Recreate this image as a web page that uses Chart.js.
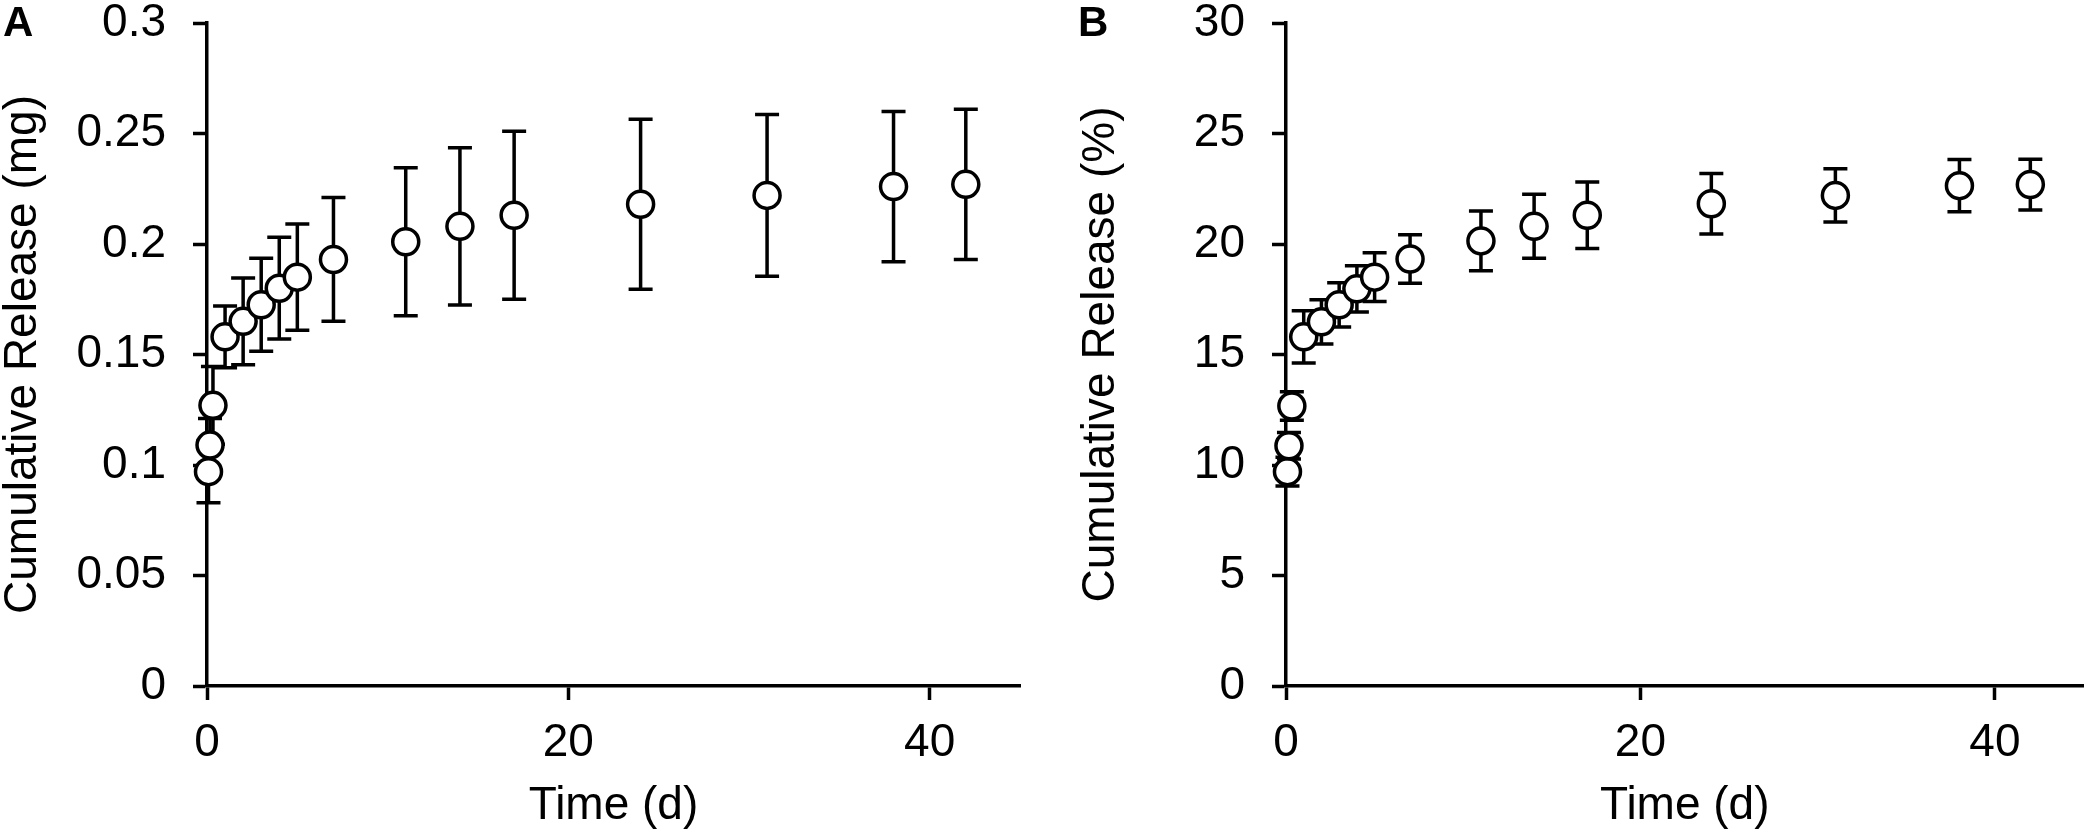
<!DOCTYPE html>
<html>
<head>
<meta charset="utf-8">
<script src="https://cdn.jsdelivr.net/npm/chart.js@4.4.0/dist/chart.umd.min.js"></script>
<style>
  body { margin:0; background:#fff; width:2100px; height:834px; overflow:hidden; position:relative; font-family:"Liberation Sans", Arial, sans-serif; }
  .panel { position:absolute; top:0; width:1050px; height:834px; }
  .letra { position:absolute; top:1px; font-weight:bold; font-size:42px; line-height:42px; color:#000; }
</style>
</head>
<body>
<div class="panel" style="left:0"><canvas id="grafA" width="1050" height="834"></canvas></div>
<div class="panel" style="left:1050px"><canvas id="grafB" width="1050" height="834"></canvas></div>
<div class="letra" style="left:3px">A</div>
<div class="letra" style="left:1078px">B</div>
<script>
  // tiempos de muestreo (dias)
  let dias = [0.083, 0.167, 0.33, 1, 2, 3, 4, 5, 7, 11, 14, 17, 24, 31, 38, 42]
  // panel A: liberacion acumulada en mg
  let liberadoMg = [0.097, 0.109, 0.127, 0.158, 0.165, 0.1725, 0.18, 0.185, 0.193, 0.201, 0.208, 0.213, 0.218, 0.222, 0.226, 0.227]
  let errorMg = [0.0141, 0.012, 0.0176, 0.014, 0.0196, 0.021, 0.023, 0.024, 0.028, 0.0335, 0.0356, 0.038, 0.0385, 0.0366, 0.034, 0.034]
  // panel B: liberacion acumulada en %
  let liberadoPct = [9.7, 10.87, 12.67, 15.8, 16.48, 17.25, 17.97, 18.5, 19.32, 20.14, 20.8, 21.3, 21.82, 22.2, 22.64, 22.69]
  let errorPct = [0.65, 0.6, 0.64, 1.18, 1.0, 1.0, 1.05, 1.1, 1.1, 1.35, 1.45, 1.5, 1.37, 1.2, 1.18, 1.15]
  let ticksX = [0, 20, 40]

  const negro = "#000"
  const fuente = "'Liberation Sans', Arial, sans-serif"
  const grosor = 3.5

  // dibuja las barras de error debajo de los circulos
  const barrasError = {
    id: "barrasError",
    beforeDatasetsDraw(chart) {
      const ctx = chart.ctx
      const xs = chart.scales.x
      const ys = chart.scales.y
      chart.data.datasets.forEach(ds => {
        if (!ds.errores) return
        ctx.save()
        ctx.strokeStyle = negro
        ctx.lineWidth = grosor
        ds.data.forEach((p, i) => {
          const e = ds.errores[i]
          const x = xs.getPixelForValue(p.x)
          const arriba = ys.getPixelForValue(p.y + e)
          const abajo = ys.getPixelForValue(p.y - e)
          ctx.beginPath()
          ctx.moveTo(x, arriba); ctx.lineTo(x, abajo)
          ctx.moveTo(x - 12, arriba); ctx.lineTo(x + 12, arriba)
          ctx.moveTo(x - 12, abajo); ctx.lineTo(x + 12, abajo)
          ctx.stroke()
        })
        ctx.restore()
      })
    }
  }

  function crearGrafico(id, valores, errores, yMax, yPaso, yTitulo, anchoEjeY, padTitulo, padDerecha, decimales) {
    const ctx = document.getElementById(id).getContext("2d")
    const puntos = dias.map((d, i) => ({ x: d, y: valores[i] }))
    return new Chart(ctx, {
      type: "scatter",
      data: {
        datasets: [{
          data: puntos,
          errores: errores,
          pointRadius: 13,
          pointHoverRadius: 13,
          pointBackgroundColor: "#fff",
          pointBorderColor: negro,
          pointBorderWidth: grosor,
          clip: false
        }]
      },
      plugins: [barrasError],
      options: {
        responsive: false,
        animation: false,
        devicePixelRatio: 1,
        layout: { padding: { top: 23, right: padDerecha, left: 0, bottom: 0 } },
        plugins: { legend: { display: false }, tooltip: { enabled: false } },
        scales: {
          x: {
            type: "linear",
            min: 0,
            max: 45,
            afterBuildTicks: eje => { eje.ticks = ticksX.map(v => ({ value: v })) },
            afterFit: eje => { eje.height = 148; eje.paddingLeft = 0; eje.paddingRight = 0 },
            border: { display: true, color: negro, width: grosor },
            grid: { drawOnChartArea: false, drawTicks: true, tickLength: 14, tickWidth: grosor, tickColor: negro },
            ticks: { color: negro, padding: 20, font: { family: fuente, size: 46, lineHeight: 1 }, maxRotation: 0 },
            title: { display: true, text: "Time (d)", color: negro, font: { family: fuente, size: 46, lineHeight: 0.8 }, padding: { top: 0, bottom: 9.5 } }
          },
          y: {
            min: 0,
            max: yMax,
            afterFit: eje => { eje.width = anchoEjeY; eje.paddingTop = 0; eje.paddingBottom = 0 },
            border: { display: true, color: negro, width: grosor },
            grid: { drawOnChartArea: false, drawTicks: true, tickLength: 14, tickWidth: grosor, tickColor: negro },
            ticks: {
              stepSize: yPaso,
              color: negro,
              padding: 27,
              font: { family: fuente, size: 46, lineHeight: 1 },
              callback: v => String(+v.toFixed(decimales))
            },
            title: { display: true, text: yTitulo, color: negro, font: { family: fuente, size: 46, lineHeight: 1 }, padding: { top: padTitulo, bottom: 0 } }
          }
        }
      }
    })
  }

  var graficoA = crearGrafico("grafA", liberadoMg, errorMg, 0.3, 0.05, "Cumulative Release (mg)", 207, 0.5, 30, 2)
  var graficoB = crearGrafico("grafB", liberadoPct, errorPct, 30, 5, "Cumulative Release (%)", 236, 28, 0, 0)
</script>
</body>
</html>
